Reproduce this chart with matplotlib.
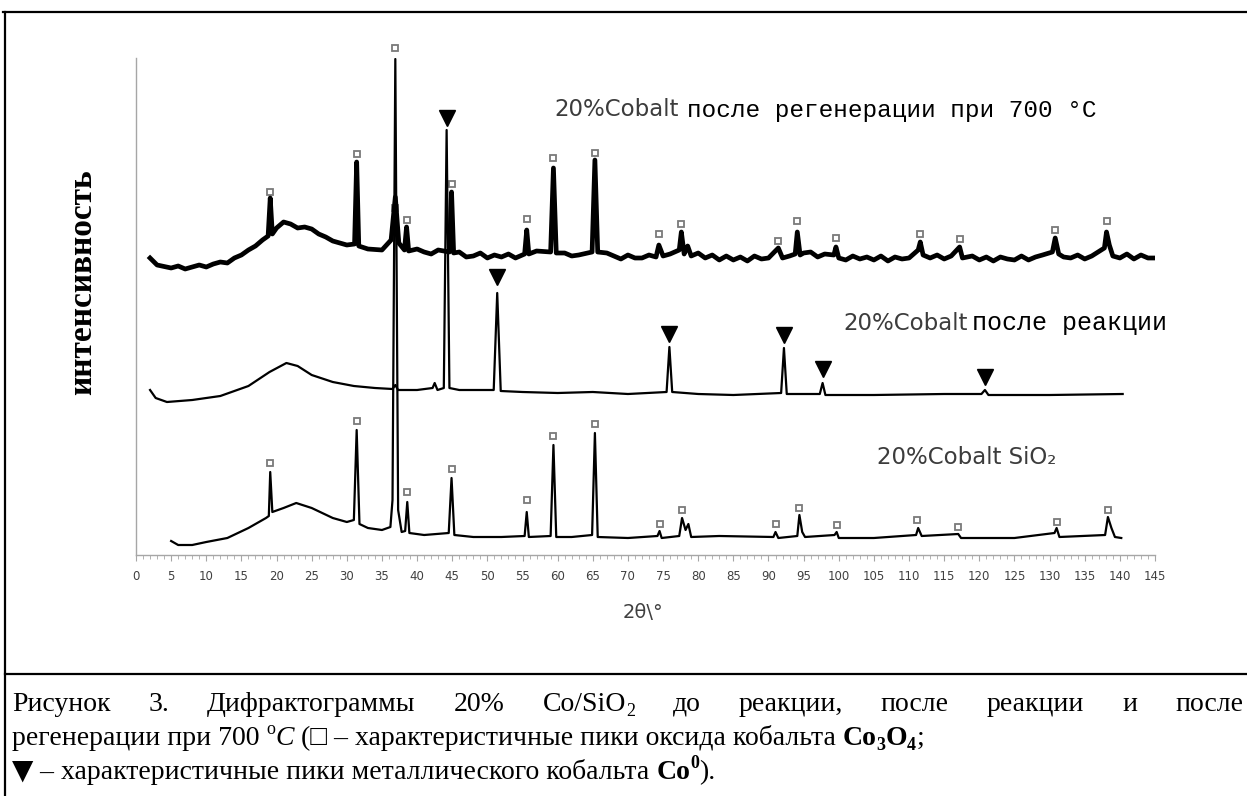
import matplotlib
matplotlib.use("Agg")
import matplotlib.pyplot as plt
from matplotlib.lines import Line2D
from matplotlib.ticker import MultipleLocator

W, H = 1247, 796

# ---------------------------------------------------------------------------
# Data: 2theta (deg) and intensity (a.u., shifted traces)
# ---------------------------------------------------------------------------
# after regeneration at 700 C (top trace, noisy)
tth_regen = [2.0, 3, 5, 6, 7, 8, 9, 10, 11, 12, 13, 14, 15, 16, 17, 18, 18.8, 19.1,
             19.4, 20, 21, 22, 23, 24, 25, 26, 27, 28, 29, 30, 31.1, 31.4, 31.7, 33,
             35, 36.3, 36.9, 37.4, 38.2, 38.5, 38.8, 40, 41, 42, 43, 44.6, 44.9, 45.2,
             46, 47, 48, 49, 50, 51, 52, 53, 54, 55.3, 55.6, 55.9, 57, 59.0, 59.4,
             59.8, 61, 62, 63, 64.9, 65.3, 65.7, 67, 68, 69, 70, 71, 72, 73, 74.0,
             74.4, 75, 76, 77.3, 77.6, 78, 78.5, 79, 80, 81, 82, 83, 84, 85, 86, 87,
             88, 89, 90, 91.4, 92, 93, 93.8, 94.1, 94.5, 95, 96, 97, 98, 99.3, 99.6,
             100, 101, 102, 103, 104, 105, 106, 107, 108, 109, 110, 111.3, 111.6, 112,
             113, 114, 115, 116, 117.2, 117.6, 119, 120, 121, 122, 123, 124, 125, 126,
             127, 128, 129, 130.4, 130.8, 131.3, 132, 133, 134, 135, 136, 137.8,
             138.1, 138.5, 139, 140, 141, 142, 143, 144, 145.2]
int_regen = [297, 290, 287, 289, 286, 288, 290, 288, 291, 293, 292, 297, 300, 305, 309,
             315, 319, 357, 321, 327, 333, 331, 327, 328, 326, 321, 318, 314, 312, 310,
             311, 393, 309, 306, 305, 315, 358, 312, 305, 328, 304, 306, 303, 301, 305,
             303, 363, 302, 303, 298, 299, 302, 297, 300, 298, 301, 297, 301, 325, 301,
             304, 303, 387, 302, 302, 299, 300, 303, 395, 303, 302, 299, 296, 300, 297,
             297, 300, 298, 310, 299, 301, 305, 323, 301, 309, 299, 302, 297, 300, 295,
             299, 295, 298, 294, 299, 296, 297, 307, 297, 299, 301, 323, 300, 302, 303,
             298, 301, 300, 308, 297, 295, 299, 296, 298, 295, 299, 294, 298, 296, 297,
             305, 313, 300, 297, 300, 296, 299, 308, 297, 299, 295, 298, 294, 298, 296,
             295, 299, 295, 298, 300, 303, 317, 301, 298, 297, 300, 296, 299, 307, 323,
             310, 299, 297, 301, 296, 300, 297, 297]

# after reaction (middle trace)
tth_react = [2.0, 2.8, 4.4, 8, 12, 16, 19, 21.4, 23, 25, 28, 31, 34, 36.5, 36.9, 37.3,
             40, 42.2, 42.5, 42.9, 43.8, 44.2, 44.6, 46, 50.9, 51.4, 51.9, 55, 60, 65,
             70, 75.5, 75.9, 76.3, 80, 85, 91.8, 92.2, 92.6, 97.3, 97.7, 98.1, 105,
             115, 120.3, 120.8, 121.3, 130, 140.4]
int_react = [165, 157, 153, 155, 159, 169, 183, 192, 189, 180, 173, 169, 167, 166, 170,
             165, 165, 167, 172, 165, 167, 425, 167, 165, 165, 262, 164, 163, 162, 163,
             161, 163, 208, 163, 161, 160, 162, 207, 161, 161, 172, 160, 160, 161, 161,
             165, 160, 160, 161]

# fresh 20% Co/SiO2 (bottom trace)
tth_fresh = [5.0, 6, 8, 10, 13, 16, 18.5, 18.9, 19.1, 19.4, 21, 22.8, 25, 28, 30, 31.0,
             31.4, 31.8, 33, 35, 36.2, 36.5, 36.9, 37.3, 37.8, 38.3, 38.6, 38.9, 41,
             44.5, 44.9, 45.3, 48, 52, 55.3, 55.6, 55.9, 59.0, 59.4, 59.8, 62, 64.9,
             65.3, 65.7, 70, 74.2, 74.5, 74.8, 77.3, 77.7, 78.2, 78.6, 79, 83, 90.7,
             91.0, 91.4, 94.1, 94.4, 94.8, 95.2, 99.4, 99.7, 100, 105, 111.0, 111.3,
             111.8, 117.0, 117.4, 125, 130.7, 131.0, 131.4, 137.9, 138.3, 138.8, 139.3,
             140.2]
int_fresh = [14, 10, 10, 13, 17, 27, 37, 39, 83, 43, 47, 52, 47, 37, 33, 35, 125, 31,
             27, 25, 28, 55, 496, 45, 23, 24, 53, 22, 20, 22, 77, 20, 18, 18, 19, 43, 18,
             19, 110, 18, 18, 20, 122, 18, 17, 19, 24, 17, 19, 37, 25, 31, 18, 19, 18,
             23, 17, 19, 40, 23, 18, 20, 23, 17, 17, 20, 27, 19, 21, 17, 17, 22, 27, 18,
             20, 38, 27, 18, 17]

# Co3O4 peak marks (open squares)
sq_regen_x = [19.1, 31.4, 36.9, 38.5, 44.9, 55.6, 59.4, 65.3, 74.4, 77.6, 91.4, 94.1,
              99.6, 111.6, 117.2, 130.8, 138.1]
sq_regen_y = [363, 401, 347, 335, 371, 336, 397, 402, 321, 331, 314, 334, 317, 321,
              316, 325, 334]
sq_fresh_x = [19.1, 31.4, 36.9, 38.6, 44.9, 55.6, 59.4, 65.3, 74.5, 77.7, 91.0, 94.4,
              99.7, 111.2, 117.0, 131.0, 138.3]
sq_fresh_y = [92, 134, 507, 63, 86, 55, 119, 131, 31, 45, 31, 47, 30, 35, 28, 33, 45]

# metallic Co peak marks (filled triangles)
tri_x = [44.2, 51.4, 75.9, 92.2, 97.7, 120.8]
tri_y = [437, 278, 221, 220, 186, 178]

x_ticks = list(range(0, 150, 5))

SANS = ["Liberation Sans Narrow", "DejaVu Sans"]
SERIF = ["Liberation Serif", "DejaVu Serif"]
MONO = ["Liberation Mono", "DejaVu Sans Mono"]

fig = plt.figure(figsize=(W / 100, H / 100), dpi=100)
fig.patch.set_facecolor("white")
ax = fig.add_axes([136 / W, (H - 555) / H, 1019 / W, 497 / H])

ax.plot(tth_fresh, int_fresh, color="black", lw=1.6, zorder=3)
ax.plot(tth_react, int_react, color="black", lw=1.6, zorder=3)
ax.plot(tth_regen, int_regen, color="black", lw=3.4, zorder=3)

sq_style = dict(marker="s", ms=5, mfc="white", mec="#7a7a7a", mew=1.3, ls="none",
                clip_on=False)
ax.plot(sq_regen_x, sq_regen_y, zorder=2, **sq_style)
ax.plot(sq_fresh_x, sq_fresh_y, zorder=4, **sq_style)
ax.plot(tri_x, tri_y, marker="v", ms=12, color="black", ls="none", zorder=4,
        clip_on=False)

# series labels
lab_gray = "#3c3c3c"
ax.text(59.6, 445, "20%Cobalt", family=SANS, fontsize=16.5, color=lab_gray,
        va="center")
ax.text(78.4, 445, "после регенерации при 700 °C", family=MONO, fontsize=17.6,
        color="black", va="center")
ax.text(100.7, 232, "20%Cobalt", family=SANS, fontsize=16.5, color=lab_gray,
        va="center")
ax.text(119.0, 232, "после реакции", family=MONO, fontsize=18, color="black",
        va="center")
ax.text(105.4, 97, "20%Cobalt SiO₂", family=SANS, fontsize=16.5, color=lab_gray,
        va="center")

ax.set_xlim(0, 145)
ax.set_ylim(0, 497)
ax.set_yticks([])
ax.set_xticks(x_ticks)
ax.xaxis.set_minor_locator(MultipleLocator(1))
for s in ("top", "right"):
    ax.spines[s].set_visible(False)
for s in ("left", "bottom"):
    ax.spines[s].set_color("#a6a6a6")
    ax.spines[s].set_linewidth(1.0)
ax.tick_params(axis="x", which="major", length=4, color="#a6a6a6", pad=7,
               labelsize=8.5, labelcolor="#404040")
ax.tick_params(axis="x", which="minor", length=3, color="#a6a6a6")
for lab in ax.get_xticklabels():
    lab.set_family(SANS)
ax.patch.set_alpha(0)

fig.text(643 / W, 1 - 612 / H, "2θ\\°", family=SANS, fontsize=14, color="#404040",
         ha="center", va="center")
fig.text(83 / W, 1 - 282 / H, "интенсивность", family=SERIF, fontweight="bold",
         fontsize=24, rotation=90, ha="center", va="center")

# table frame around the figure
def fig_line(xs, ys, lw=1.6):
    fig.add_artist(Line2D([x / W for x in xs], [1 - y / H for y in ys],
                          color="black", lw=lw))

fig_line([3, W], [12, 12])
fig_line([5, 5], [12, H])
fig_line([5, W], [674, 674])

# ---------------------------------------------------------------------------
# Caption, laid out run by run
# ---------------------------------------------------------------------------
renderer = fig.canvas.get_renderer()
CAP = 20


def runs(parts):
    items = []
    for txt, kw, dy in parts:
        k = dict(family=SERIF, fontsize=CAP)
        k.update(kw)
        t = fig.text(0, 0, txt, ha="left", va="baseline", **k)
        items.append((t, dy))
    return items


def width(items):
    return sum(t.get_window_extent(renderer).width for t, _ in items)


def place(items, x, base):
    for t, dy in items:
        t.set_position((x / W, 1 - (base - dy) / H))
        x += t.get_window_extent(renderer).width
    return x


small = dict(fontsize=CAP * 0.65)
bold = dict(fontweight="bold")
bsmall = dict(fontweight="bold", fontsize=CAP * 0.65)

words1 = [
    runs([("Рисунок", {}, 0)]),
    runs([("3.", {}, 0)]),
    runs([("Дифрактограммы", {}, 0)]),
    runs([("20%", {}, 0)]),
    runs([("Co/SiO", {}, 0), ("2", small, -5)]),
    runs([("до", {}, 0)]),
    runs([("реакции,", {}, 0)]),
    runs([("после", {}, 0)]),
    runs([("реакции", {}, 0)]),
    runs([("и", {}, 0)]),
    runs([("после", {}, 0)]),
]
x0, x1 = 12, 1243
widths = [width(w) for w in words1]
gap = (x1 - x0 - sum(widths)) / (len(words1) - 1)
x = x0
for w, wd in zip(words1, widths):
    place(w, x, 711)
    x += wd + gap

line2 = runs([
    ("регенерации при 700 ", {}, 0),
    ("o", small, 11),
    ("C", dict(style="italic"), 0),
    (" (□ – характеристичные пики оксида кобальта ", {}, 0),
    ("Co", bold, 0), ("3", bsmall, -5), ("O", bold, 0), ("4", bsmall, -5),
    (";", {}, 0),
])
place(line2, 12, 745)

line3 = runs([
    ("▼", dict(family=["DejaVu Sans"], fontsize=CAP), 0),
    (" – характеристичные пики металлического кобальта ", {}, 0),
    ("Co", bold, 0), ("0", bsmall, 11),
    (").", {}, 0),
])
place(line3, 12, 779)

fig.savefig("out.png", dpi=100, facecolor="white")
